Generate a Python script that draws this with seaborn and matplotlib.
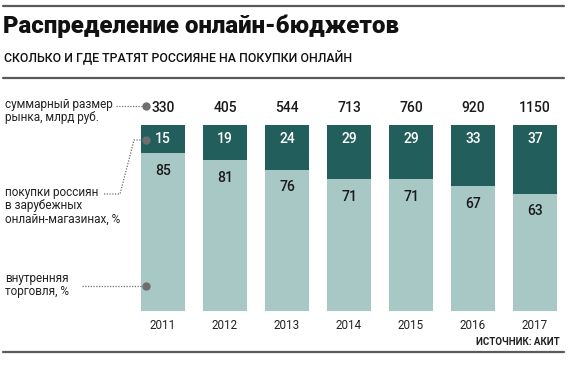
import matplotlib
matplotlib.use("Agg")
import matplotlib.pyplot as plt
import seaborn as sns
import pandas as pd
from matplotlib.lines import Line2D

# data
years = ["2011", "2012", "2013", "2014", "2015", "2016", "2017"]
market_total = [330, 405, 544, 713, 760, 920, 1150]   # млрд руб.
foreign_share = [15, 19, 24, 29, 29, 33, 37]          # %
domestic_share = [85, 81, 76, 71, 71, 67, 63]         # %

df = pd.DataFrame({"year": years, "foreign": foreign_share,
                   "domestic": domestic_share, "total": market_total})
df["full"] = df["foreign"] + df["domestic"]

dark = "#225e5b"
light = "#a8c8c5"
rule = "#5a5a5a"

sns.set_theme(style="white")
plt.rcParams["font.family"] = ["Roboto", "DejaVu Sans"]

W, H = 570, 366
fig = plt.figure(figsize=(W / 100, H / 100), dpi=100)

def fx(px):
    return px / W

def fy(py):
    return 1 - py / H

# bar area: 0% at y=312px, 100% at y=125px, first centre x=163, pitch 62
ax = fig.add_axes([fx(132), fy(311), fx(434), (311 - 125) / H])
sns.barplot(data=df, x="year", y="full", color=dark, width=0.71,
            saturation=1, linewidth=0, ax=ax)
sns.barplot(data=df, x="year", y="domestic", color=light, width=0.71,
            saturation=1, linewidth=0, ax=ax)
ax.set_xlim(-0.5, 6.5)
ax.set_ylim(0, 100)
sns.despine(ax=ax, left=True, bottom=True)
ax.set_yticks([])
ax.set_xlabel("")
ax.set_ylabel("")
ax.tick_params(axis="x", length=0, pad=6, labelsize=8.4, labelcolor="#222222")

for i, row in df.iterrows():
    ax.text(i, 109, str(row["total"]), ha="center", va="center",
            fontsize=10, fontweight="medium", color="#1a1a1a")
    ax.text(i, 100 - 7.5, str(row["foreign"]), ha="center", va="center",
            fontsize=10, fontweight="medium", color="white")
    ax.text(i, row["domestic"] - 9.5, str(row["domestic"]), ha="center",
            va="center", fontsize=10, fontweight="medium", color="#1a1a1a")

# header and rules
for y in (6, 78, 352):
    fig.add_artist(Line2D([fx(3), fx(564)], [fy(y), fy(y)], color=rule, lw=1.6))
fig.text(fx(3), fy(26), "Распределение онлайн-бюджетов", ha="left",
         va="center", fontsize=17.3, fontweight="black", color="#111111")
fig.text(fx(4), fy(58), "СКОЛЬКО И ГДЕ ТРАТЯТ РОССИЯНЕ НА ПОКУПКИ ОНЛАЙН",
         ha="left", va="center", fontsize=8.9, fontweight="medium",
         color="#111111")
fig.text(fx(560), fy(342), "ИСТОЧНИК: АКИТ", ha="right", va="center",
         fontsize=7, fontweight="bold", color="#222222")

# left-hand legend notes with dotted leaders
note_kw = dict(ha="left", va="center", fontsize=8.5, color="#222222",
               linespacing=1.05)
fig.text(fx(5), fy(111), "суммарный размер\nрынка, млрд руб.", **note_kw)
fig.text(fx(5), fy(206), "покупки россиян\nв зарубежных\nонлайн-магазинах, %",
         **note_kw)
fig.text(fx(5), fy(285), "внутренняя\nторговля, %", **note_kw)

dot_kw = dict(color="#6e6e6e", lw=0.9, ls=(0, (1, 1.2)))
leaders = [
    ([116, 146], [106, 106]),
    ([104, 120, 134, 146], [194, 194, 140, 140]),
    ([82, 146], [286, 286]),
]
for xs, ys in leaders:
    fig.add_artist(Line2D([fx(v) for v in xs], [fy(v) for v in ys], **dot_kw))
    fig.add_artist(Line2D([fx(xs[-1])], [fy(ys[-1])], marker="o", ms=5,
                          color="#6e6e6e", lw=0))

fig.savefig("out.png", dpi=100)
